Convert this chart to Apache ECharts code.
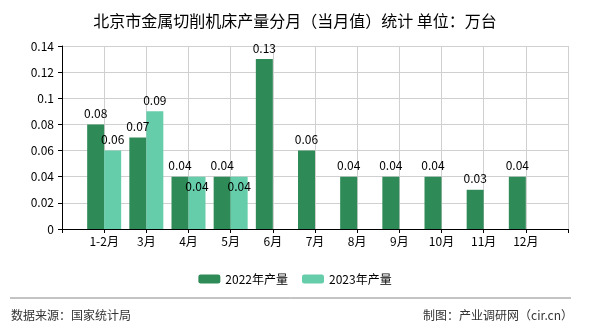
<!DOCTYPE html>
<html>
<head>
<meta charset="utf-8">
<script src="https://cdn.jsdelivr.net/npm/echarts@6/dist/echarts.min.js"></script>
<style>html,body{margin:0;padding:0;background:#fff}#c{width:590px;height:330px}</style>
</head>
<body>
<div id="c"></div>
<script>
var categories = ['', '1-2月', '3月', '4月', '5月', '6月', '7月', '8月', '9月', '10月', '11月', '12月', ''];
var values2022 = [null, 0.08, 0.07, 0.04, 0.04, 0.13, 0.06, 0.04, 0.04, 0.04, 0.03, 0.04, null];
var values2023 = [null, 0.06, 0.09, 0.04, 0.04, null, null, null, null, null, null, null, null];
var seriesNames = ['2022年产量', '2023年产量'];
var yTicks = { min: 0, max: 0.14, interval: 0.02 };

var font = '"Noto Sans CJK SC", "Noto Sans", sans-serif';
var chart = echarts.init(document.getElementById('c'));
chart.setOption({
  animation: false,
  backgroundColor: '#fff',
  title: {
    text: '北京市金属切削机床产量分月（当月值）统计 单位：万台',
    left: 'center', top: 8,
    textStyle: { fontSize: 16, fontWeight: 'normal', color: '#000', fontFamily: font }
  },
  legend: {
    top: 268, left: 'center',
    itemWidth: 22, itemHeight: 9, itemGap: 14,
    textStyle: { fontSize: 12, color: '#000', fontFamily: font },
    data: seriesNames
  },
  grid: { left: 62, right: 22, top: 46, bottom: 101 },
  xAxis: {
    type: 'category',
    data: categories,
    boundaryGap: false,
    axisLine: { lineStyle: { color: '#000' } },
    axisTick: { show: true, length: 4, lineStyle: { color: '#000' } },
    axisLabel: { color: '#000', fontSize: 12, fontFamily: font, interval: 0, margin: 6 },
    splitLine: { show: true, lineStyle: { color: '#d0d0d0' } }
  },
  yAxis: {
    type: 'value',
    min: yTicks.min, max: yTicks.max, interval: yTicks.interval,
    axisLine: { show: true, lineStyle: { color: '#000' } },
    axisTick: { show: true, length: 4, lineStyle: { color: '#000' } },
    axisLabel: { color: '#000', fontSize: 12, fontFamily: font, margin: 8 },
    splitLine: { show: true, lineStyle: { color: '#d0d0d0' } }
  },
  series: [
    {
      name: seriesNames[0], type: 'bar', data: values2022,
      barWidth: 17, barGap: '0%',
      itemStyle: { color: '#2E8B57' },
      label: { show: true, position: 'top', color: '#000', fontSize: 12, fontFamily: font, distance: 5 }
    },
    {
      name: seriesNames[1], type: 'bar', data: values2023,
      barWidth: 17, barGap: '0%',
      itemStyle: { color: '#66CDAA' },
      label: { show: true, position: 'top', color: '#000', fontSize: 12, fontFamily: font, distance: 5 },
      labelLayout: function (p) {
        var i = p.dataIndex;
        if (values2023[i] != null && values2022[i] === values2023[i]) return { dy: 21 };
        return {};
      }
    }
  ],
  graphic: [
    { type: 'line', shape: { x1: 10, y1: 298, x2: 571, y2: 298 }, style: { stroke: '#888', lineWidth: 1 } },
    { type: 'text', left: 11, top: 309, style: { text: '数据来源：国家统计局', fontSize: 12, fill: '#333', fontFamily: font } },
    { type: 'text', right: 17, top: 309, style: { text: '制图：产业调研网（cir.cn）', fontSize: 12, fill: '#333', fontFamily: font } }
  ]
});
</script>
</body>
</html>
